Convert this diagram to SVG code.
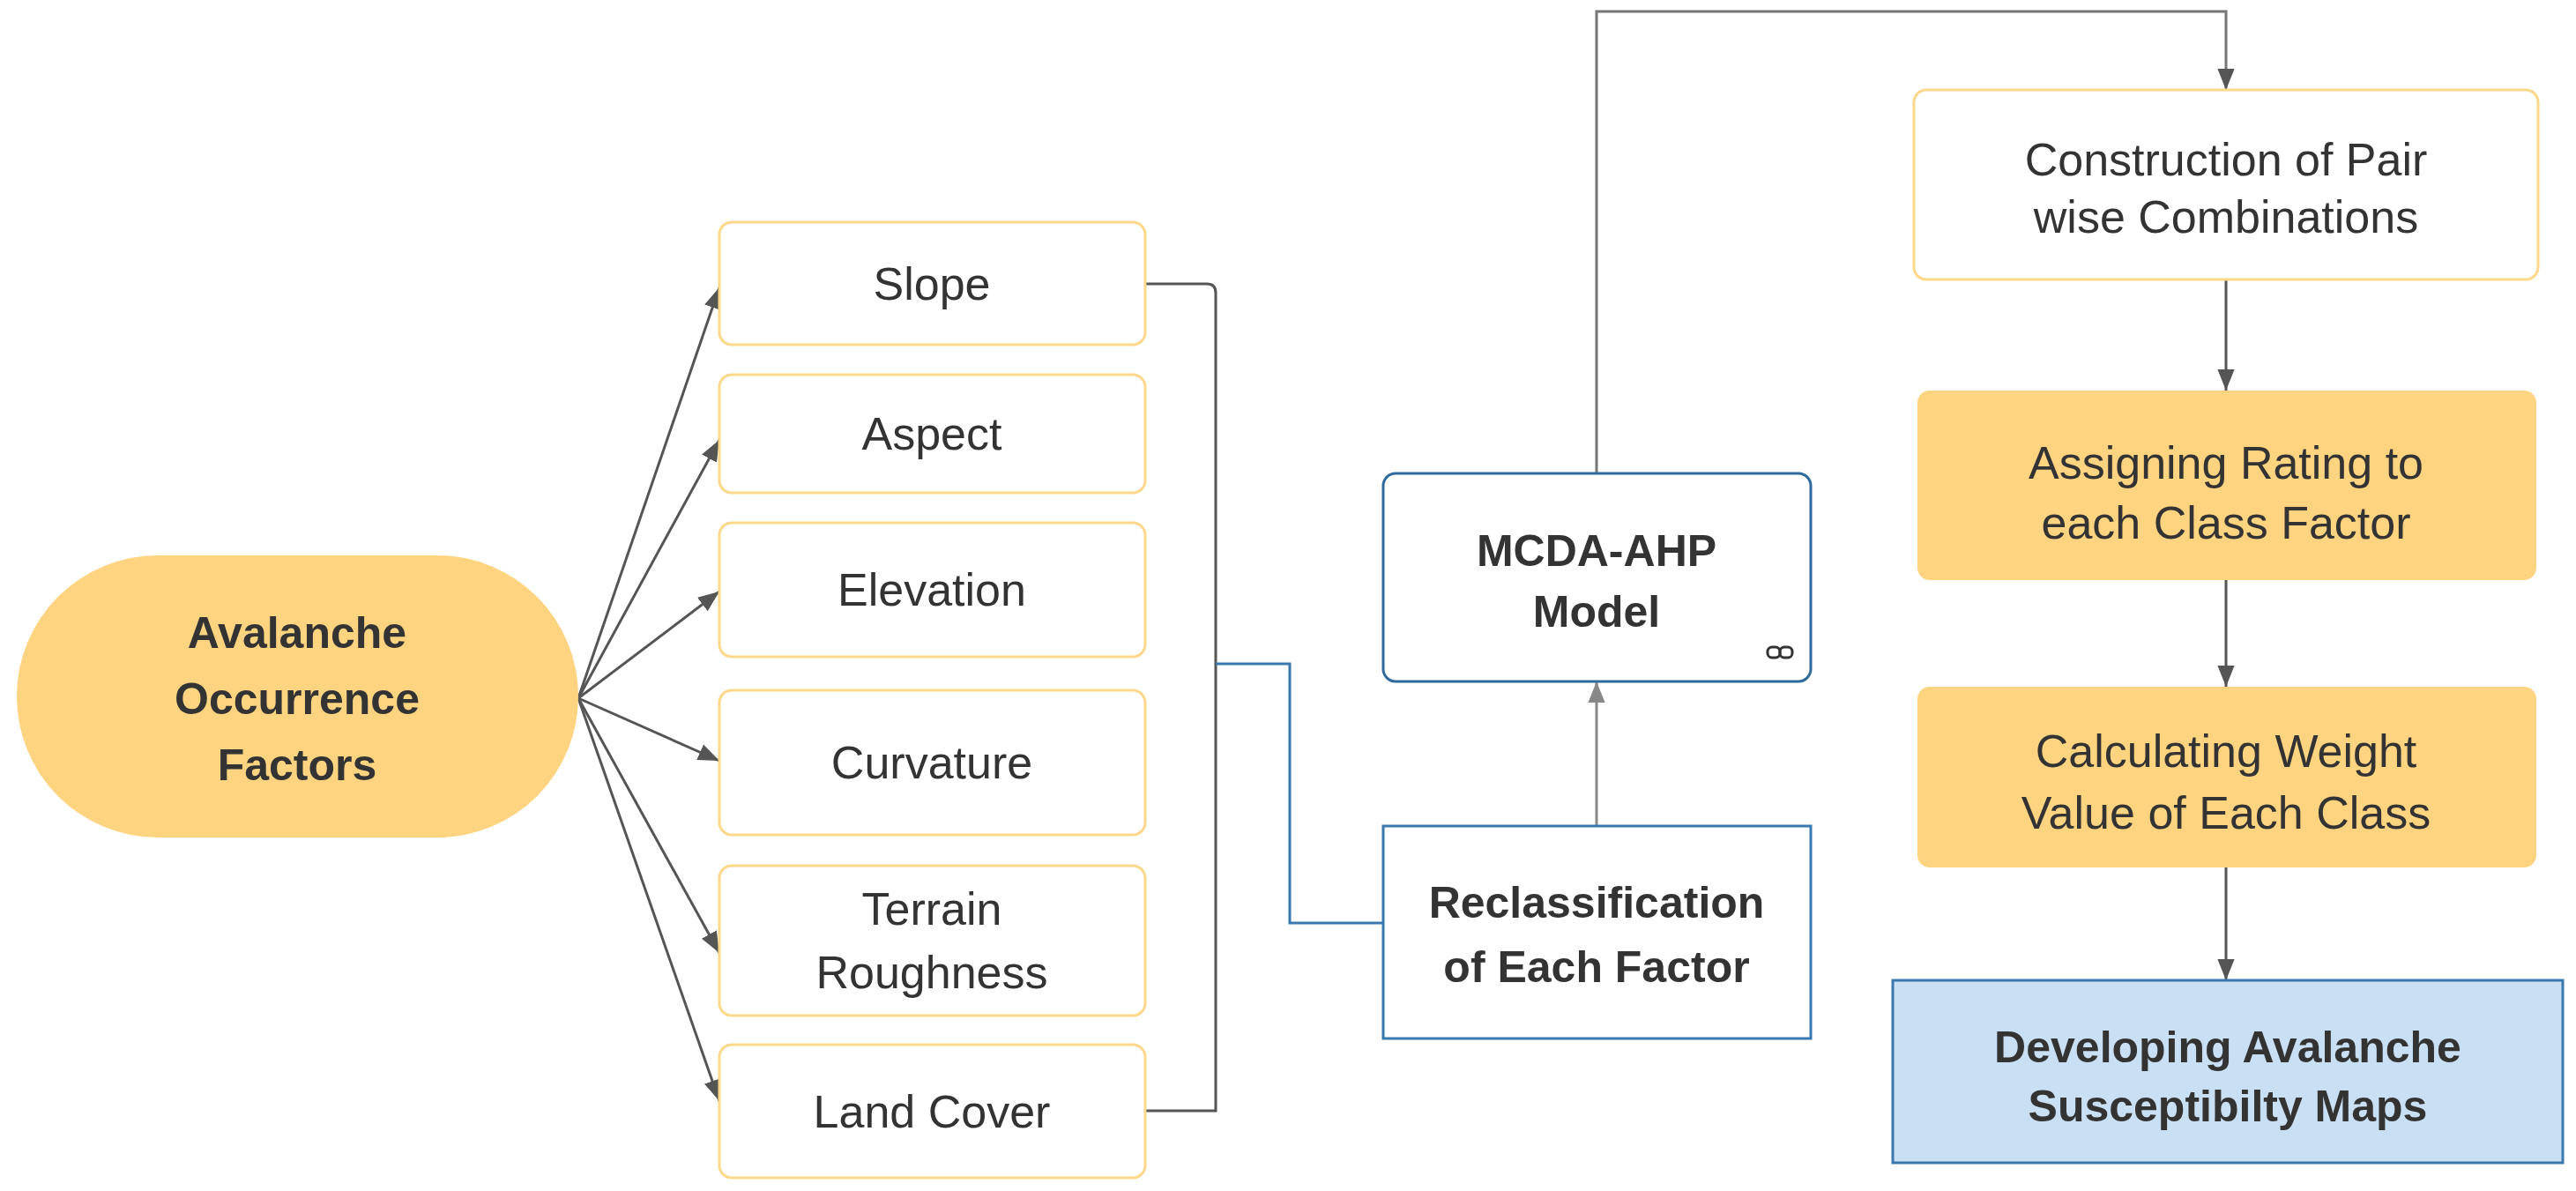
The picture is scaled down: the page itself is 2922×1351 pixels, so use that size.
<svg xmlns="http://www.w3.org/2000/svg" width="2922" height="1351" viewBox="0 0 2922 1351">
<style>
text{font-family:"Liberation Sans",Arial,sans-serif;fill:#333;text-anchor:middle}
.n{font-size:52px}
.b{font-size:50px;font-weight:bold}
.fb{fill:#fff;stroke:#fdd88a;stroke-width:3}
.ln{fill:none;stroke:#555;stroke-width:3}
</style>
<defs>
<marker id="ah" viewBox="0 0 10 10" refX="10" refY="5" markerWidth="9" markerHeight="9" markerUnits="userSpaceOnUse" orient="auto"><path d="M0,0L10,5L0,10z" fill="#555"/></marker>
<marker id="a" viewBox="0 0 10 10" refX="10" refY="5" markerWidth="24" markerHeight="24" markerUnits="userSpaceOnUse" orient="auto"><path d="M0,1L10,5L0,9z" fill="#555"/></marker>
<marker id="ag" viewBox="0 0 10 10" refX="10" refY="5" markerWidth="24" markerHeight="24" markerUnits="userSpaceOnUse" orient="auto"><path d="M0,1L10,5L0,9z" fill="#888"/></marker>
</defs>
<rect width="2922" height="1351" fill="#fff"/>
<g id="connectors">
<path class="ln" d="M656,792L816,326" marker-end="url(#a)"/>
<path class="ln" d="M656,792L816,499" marker-end="url(#a)"/>
<path class="ln" d="M656,792L816,671" marker-end="url(#a)"/>
<path class="ln" d="M656,792L816,863" marker-end="url(#a)"/>
<path class="ln" d="M656,792L816,1081" marker-end="url(#a)"/>
<path class="ln" d="M656,792L816,1249" marker-end="url(#a)"/>
<path class="ln" d="M1299,322H1369Q1379,322 1379,332V1260H1299"/>
<path d="M1379,753H1463V1047H1569" fill="none" stroke="#3a78b0" stroke-width="3"/>
<path d="M1811,937V773" fill="none" stroke="#888" stroke-width="3" marker-end="url(#ag)"/>
<path d="M1811,537V13H2525V102" fill="none" stroke="#777" stroke-width="3" marker-end="url(#a)"/>
<path class="ln" d="M2525,317V443" marker-end="url(#a)"/>
<path class="ln" d="M2525,658V779" marker-end="url(#a)"/>
<path class="ln" d="M2525,984V1112" marker-end="url(#a)"/>
</g>
<g id="factors">
<rect x="19" y="630" width="637" height="320" rx="160" fill="#fed480"/>
<text class="b" x="337" y="735">Avalanche</text>
<text class="b" x="337" y="810">Occurrence</text>
<text class="b" x="337" y="885">Factors</text>
</g>
<g id="slope"><rect class="fb" x="816" y="252" width="483" height="139" rx="14"/><text class="n" x="1057" y="340">Slope</text></g>
<g id="aspect"><rect class="fb" x="816" y="425" width="483" height="134" rx="14"/><text class="n" x="1057" y="510">Aspect</text></g>
<g id="elevation"><rect class="fb" x="816" y="593" width="483" height="152" rx="14"/><text class="n" x="1057" y="687">Elevation</text></g>
<g id="curvature"><rect class="fb" x="816" y="783" width="483" height="164" rx="14"/><text class="n" x="1057" y="883">Curvature</text></g>
<g id="terrain"><rect class="fb" x="816" y="982" width="483" height="170" rx="14"/><text class="n" x="1057" y="1049">Terrain</text><text class="n" x="1057" y="1121">Roughness</text></g>
<g id="landcover"><rect class="fb" x="816" y="1185" width="483" height="151" rx="14"/><text class="n" x="1057" y="1279">Land Cover</text></g>
<g id="reclass"><rect x="1569" y="937" width="485" height="241" fill="#fff" stroke="#3a78b0" stroke-width="3"/><text class="b" x="1811" y="1041">Reclassification</text><text class="b" x="1811" y="1114">of Each Factor</text></g>
<g id="mcda"><rect x="1569" y="537" width="485" height="236" rx="14" fill="#fff" stroke="#2e6a9e" stroke-width="3"/><text class="b" x="1811" y="642">MCDA-AHP</text><text class="b" x="1811" y="711">Model</text>
<g fill="none" stroke="#333" stroke-width="3"><rect x="2005" y="734" width="14" height="12" rx="5"/><rect x="2019" y="734" width="14" height="12" rx="5"/></g></g>
<g id="construction"><rect class="fb" x="2171" y="102" width="708" height="215" rx="14"/><text class="n" x="2525" y="199">Construction of Pair</text><text class="n" x="2525" y="264">wise Combinations</text></g>
<g id="assigning"><rect x="2175" y="443" width="702" height="215" rx="14" fill="#fed480"/><text class="n" x="2525" y="543">Assigning Rating to</text><text class="n" x="2525" y="611">each Class Factor</text></g>
<g id="calculating"><rect x="2175" y="779" width="702" height="205" rx="14" fill="#fed480"/><text class="n" x="2525" y="870">Calculating Weight</text><text class="n" x="2525" y="940">Value of Each Class</text></g>
<g id="developing"><rect x="2147" y="1112" width="760" height="207" fill="#c9dff3" stroke="#3a78b0" stroke-width="3"/><text class="b" x="2527" y="1205">Developing Avalanche</text><text class="b" x="2527" y="1272">Susceptibilty Maps</text></g>
</svg>
